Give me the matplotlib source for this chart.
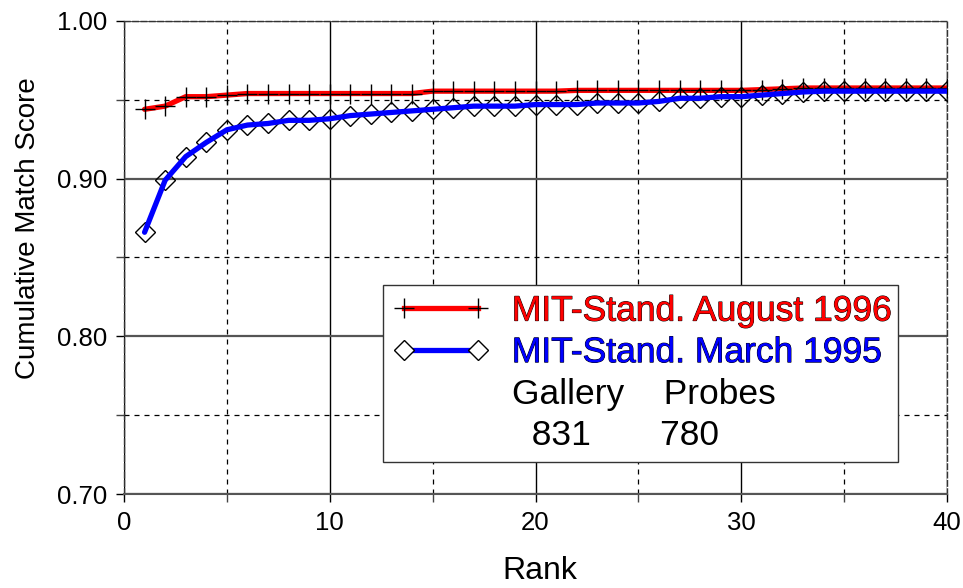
import matplotlib
matplotlib.use("Agg")
import matplotlib.pyplot as plt
from matplotlib.lines import Line2D
import matplotlib.patheffects as pe
from matplotlib.ticker import MultipleLocator

plt.rcParams['font.family'] = ['Liberation Sans', 'DejaVu Sans']

rank = list(range(1, 41))
aug1996 = [0.944, 0.946, 0.952, 0.952, 0.953, 0.954, 0.954, 0.954, 0.954, 0.954,
           0.954, 0.954, 0.954, 0.954, 0.9555, 0.9555, 0.9555, 0.9555, 0.9555, 0.9555,
           0.9555, 0.956, 0.956, 0.956, 0.956, 0.956, 0.956, 0.956, 0.956, 0.956,
           0.9565, 0.957, 0.9575, 0.9575, 0.9575, 0.9575, 0.9575, 0.9575, 0.9575, 0.9575]
mar1995 = [0.866, 0.899, 0.914, 0.923, 0.931, 0.934, 0.935, 0.937, 0.937, 0.938,
           0.940, 0.941, 0.942, 0.943, 0.944, 0.945, 0.946, 0.946, 0.946, 0.947,
           0.947, 0.947, 0.948, 0.948, 0.948, 0.949, 0.951, 0.951, 0.952, 0.952,
           0.953, 0.954, 0.955, 0.9555, 0.9555, 0.9555, 0.9555, 0.9555, 0.9555, 0.9555]
labels = ["MIT-Stand. August 1996", "MIT-Stand. March 1995"]
gallery_label, probes_label = "Gallery", "Probes"
gallery_n, probes_n = "831", "780"
xticks = [0, 10, 20, 30, 40]
yticks = [0.70, 0.80, 0.90, 1.00]

fig = plt.figure(figsize=(9.63, 5.88), dpi=100)
ax = fig.add_axes([124/963, 1-494/588, (947-124)/963, (494-21)/588])

ax.set_xlim(0, 40)
ax.set_ylim(0.70, 1.00)
ax.set_xticks(xticks)
ax.set_yticks(yticks)
ax.set_yticklabels([f"{v:.2f}" for v in yticks])
ax.xaxis.set_minor_locator(MultipleLocator(5))
ax.yaxis.set_minor_locator(MultipleLocator(0.05))
ax.tick_params(which='major', direction='out', length=6, width=1, labelsize=18.5, pad=6)
ax.tick_params(which='minor', direction='out', length=6, width=1, color='#444')
ax.grid(which='major', axis='x', color='black', lw=1, zorder=0)
ax.grid(which='major', axis='y', color='#555', lw=1.6, zorder=0)
ax.grid(which='minor', color='black', lw=0.9, ls=(0, (4, 4)), zorder=0)
for s in ['left', 'top', 'right']:
    ax.spines[s].set_linestyle((0, (4, 2)))
    ax.spines[s].set_color('#333')
    ax.spines[s].set_linewidth(1)
ax.spines['bottom'].set_color('#555')
ax.spines['bottom'].set_linewidth(1.5)

# August 1996: red line with black plus markers on top
ax.plot(rank, aug1996, color='red', lw=3.8, zorder=3, solid_capstyle='round')
ax.plot(rank, aug1996, ls='none', marker='+', ms=14, mew=1, mec='black', zorder=4)
# March 1995: blue line drawn on top of open diamonds
ax.plot(rank, mar1995, ls='none', marker='D', ms=10, mew=1, mec='black', mfc='none', zorder=3)
ax.plot(rank, mar1995, color='blue', lw=3.8, zorder=4, solid_capstyle='round')

ax.set_ylabel("Cumulative Match Score", fontsize=20)
ax.yaxis.label.set_va('baseline')
ax.yaxis.set_label_coords((35-124)/823, (494-228)/473)
ax.set_xlabel("Rank", fontsize=23)
ax.xaxis.label.set_va('baseline')
ax.xaxis.set_label_coords((540-124)/823, (494-579)/473)

h1 = Line2D([], [], color='red', lw=3.8, marker='+', ms=14, mew=1, mec='black')
h2 = Line2D([], [], color='blue', lw=3.8, marker='D', ms=10, mew=1, mec='black', mfc='white')
h3 = Line2D([], [], color='none')
h4 = Line2D([], [], color='none')
leg = ax.legend([h1, h2, h3, h4],
                labels + [f"{gallery_label}    {probes_label}", f"  {gallery_n}       {probes_n}"],
                loc='lower left', bbox_to_anchor=(0.315, 0.0675, 0.625, 0.3625),
                mode='expand', fontsize=25.5, numpoints=2, handlelength=2.7,
                handletextpad=0.65, borderpad=0.28, labelspacing=0.24,
                fancybox=False, framealpha=1, edgecolor='#333', borderaxespad=0)
leg.get_frame().set_linewidth(1)
leg.set_zorder(10)
txts = leg.get_texts()
for t, c in zip(txts[:2], ['red', 'blue']):
    t.set_color(c)
    t.set_path_effects([pe.Stroke(linewidth=0.7, foreground='black'), pe.Normal()])

fig.savefig("out.png", dpi=100)
